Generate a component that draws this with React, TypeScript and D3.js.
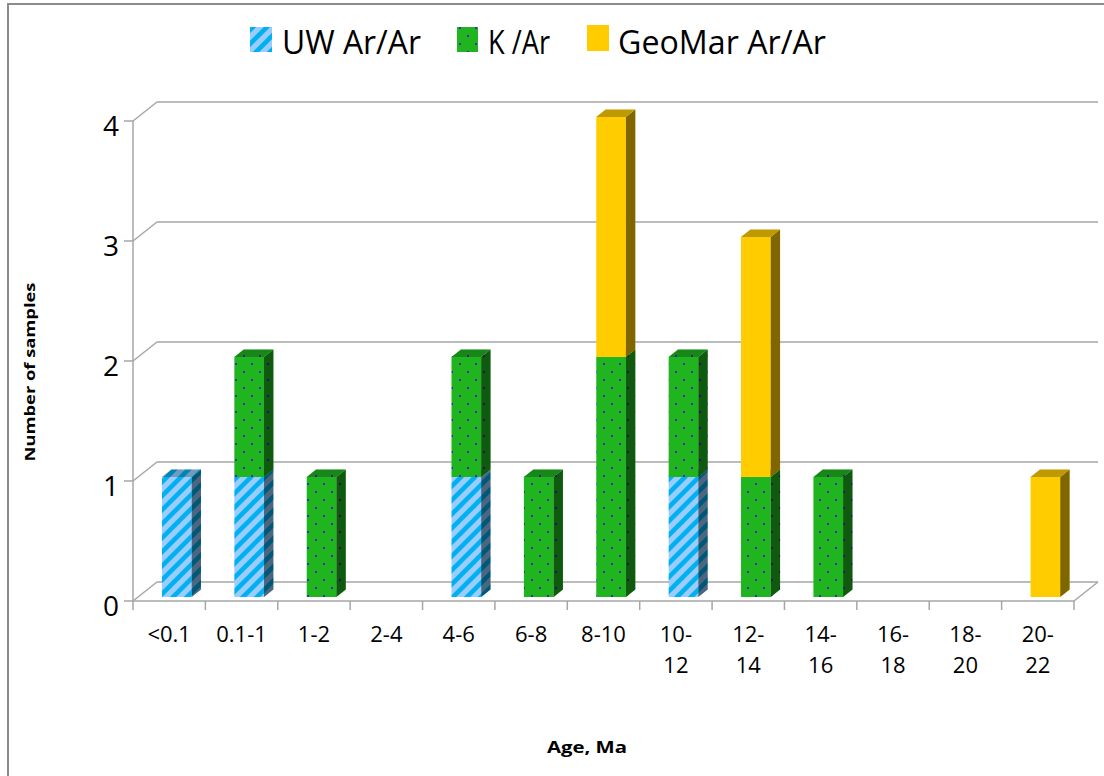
import * as d3 from 'd3';

const categories = ['<0.1', '0.1-1', '1-2', '2-4', '4-6', '6-8', '8-10', '10-12', '12-14', '14-16', '16-18', '18-20', '20-22'];
const uwArAr = [1, 1, 0, 0, 1, 0, 0, 1, 0, 0, 0, 0, 0];
const kAr = [0, 1, 1, 0, 1, 1, 2, 1, 1, 1, 0, 0, 0];
const geomarArAr = [0, 0, 0, 0, 0, 0, 2, 0, 2, 0, 0, 0, 1];
const yTicks = [0, 1, 2, 3, 4];
const seriesNames = ['UW  Ar/Ar', 'K /Ar', 'GeoMar Ar/Ar'];

const W = 1104;
const H = 776;
const FONT = "'Open Sans', 'Noto Sans', sans-serif";

// depth vector of the 3D box (front plane -> back wall)
const DX = 24;
const DY = -19;

const App = () => {
  const x = d3.scaleBand<string>().domain(categories).range([133, 1074]);
  const y = d3.scaleLinear().domain([0, 4]).range([601, 121]);
  const bw = x.bandwidth();

  const stack = d3.stack<number>()
    .keys(['0', '1', '2'])
    .value((i, k) => [uwArAr, kAr, geomarArAr][+k][i]);
  const stacked = stack(categories.map((_, i) => i));

  const fills = ['url(#uwPat)', 'url(#kPat)', '#FFCC00'];

  // bar front face offset into the depth, and bar depth
  const oy = DY * 0.21;
  const sdx = DX * 0.39;
  const sdy = DY * 0.39;

  const label = (c: string) => (/^\d{2}-\d{2}$/.test(c) ? [c.slice(0, 3), c.slice(3)] : [c]);

  return (
    <svg width={W} height={H} style={{ position: 'absolute', left: 0, top: 0, background: '#fff' }}>
      <defs>
        <pattern id="uwPat" patternUnits="userSpaceOnUse" width={14} height={14}>
          <rect width={14} height={14} fill="#99CCFF" />
          <path d="M-4,4 L4,-4 M0,14 L14,0 M10,18 L18,10" stroke="#00B0F0" strokeWidth={4.5} />
        </pattern>
        <pattern id="kPat" patternUnits="userSpaceOnUse" width={16} height={16}>
          <rect width={16} height={16} fill="#1FB51F" />
          <rect x={3} y={3} width={2} height={2} fill="#5020C8" />
          <rect x={11} y={11} width={2} height={2} fill="#5020C8" />
        </pattern>
      </defs>

      {/* chart frame */}
      <rect x={8} y={4} width={1110} height={790} fill="#fff" stroke="#8c8c8c" strokeWidth={2} />

      {/* back wall gridlines with left diagonals */}
      {yTicks.map(t => (
        <g key={'g' + t}>
          <line x1={133} y1={y(t)} x2={133 + DX} y2={y(t) + DY} stroke="#a6a6a6" strokeWidth={1.5} />
          <line x1={133 + DX} y1={y(t) + DY} x2={1074 + DX} y2={y(t) + DY} stroke="#a6a6a6" strokeWidth={1.5} />
        </g>
      ))}

      {/* floor */}
      <line x1={133} y1={y(0)} x2={1074} y2={y(0)} stroke="#a6a6a6" strokeWidth={1.5} />
      <line x1={1074} y1={y(0)} x2={1074 + DX} y2={y(0) + DY} stroke="#a6a6a6" strokeWidth={1.5} />

      {/* left axis */}
      <line x1={133} y1={y(4)} x2={133} y2={y(0)} stroke="#a6a6a6" strokeWidth={1.5} />
      {yTicks.map(t => (
        <g key={'t' + t}>
          <line x1={124} y1={y(t)} x2={133} y2={y(t)} stroke="#a6a6a6" strokeWidth={1.5} />
          <text x={119} y={y(t) + 15} textAnchor="end" fontSize={28} fontFamily={FONT} fill="#000">{t}</text>
        </g>
      ))}

      {/* category ticks and labels */}
      {categories.map((c, i) => (
        <line key={'ct' + i} x1={x(c)!} y1={y(0)} x2={x(c)!} y2={y(0) + 9} stroke="#a6a6a6" strokeWidth={1.5} />
      ))}
      <line x1={1074} y1={y(0)} x2={1074} y2={y(0) + 9} stroke="#a6a6a6" strokeWidth={1.5} />
      {categories.map(c => (
        <text key={'cl' + c} x={x(c)! + bw / 2} y={642} textAnchor="middle" fontSize={22} fontFamily={FONT} fill="#000">
          {label(c).map((l, j) => (
            <tspan key={j} x={x(c)! + bw / 2} dy={j === 0 ? 0 : 31}>{l}</tspan>
          ))}
        </text>
      ))}

      {/* bars */}
      {categories.map((c, i) => {
        const fx = x(c)! + bw * 0.4;
        const w = bw * 0.41;
        return (
          <g key={'b' + c}>
            {stacked.map((s, k) => {
              const [v0, v1] = s[i];
              if (v1 - v0 <= 0) return null;
              const yb = y(v0) + oy;
              const yt = y(v1) + oy;
              const side = `${fx + w},${yt} ${fx + w + sdx},${yt + sdy} ${fx + w + sdx},${yb + sdy} ${fx + w},${yb}`;
              const top = `${fx},${yt} ${fx + sdx},${yt + sdy} ${fx + w + sdx},${yt + sdy} ${fx + w},${yt}`;
              return (
                <g key={k}>
                  <rect x={fx} y={yt} width={w} height={yb - yt} fill={fills[k]} />
                  <polygon points={side} fill={fills[k]} />
                  <polygon points={side} fill="#000" fillOpacity={0.5} />
                  <polygon points={top} fill={fills[k]} />
                  <polygon points={top} fill="#000" fillOpacity={0.25} />
                </g>
              );
            })}
          </g>
        );
      })}

      {/* legend */}
      <rect x={250} y={27} width={22} height={25} fill="url(#uwPat)" />
      <text x={282} y={54} fontSize={33} fontFamily={FONT} textLength={139} lengthAdjust="spacingAndGlyphs" fill="#000">{seriesNames[0]}</text>
      <rect x={457} y={27} width={21} height={25} fill="url(#kPat)" />
      <text x={488} y={54} fontSize={33} fontFamily={FONT} textLength={62} lengthAdjust="spacingAndGlyphs" fill="#000">{seriesNames[1]}</text>
      <rect x={587} y={25} width={22} height={26} fill="#FFCC00" />
      <text x={618} y={54} fontSize={33} fontFamily={FONT} textLength={208} lengthAdjust="spacingAndGlyphs" fill="#000">{seriesNames[2]}</text>

      {/* axis titles */}
      <text transform="translate(35,372) rotate(-90)" textAnchor="middle" fontSize={15} fontWeight="bold" fontFamily={FONT} textLength={179} lengthAdjust="spacingAndGlyphs" fill="#000">Number of samples</text>
      <text x={587} y={753} textAnchor="middle" fontSize={16} fontWeight="bold" fontFamily={FONT} textLength={80} lengthAdjust="spacingAndGlyphs" fill="#000">Age, Ma</text>
    </svg>
  );
};

export default App;
